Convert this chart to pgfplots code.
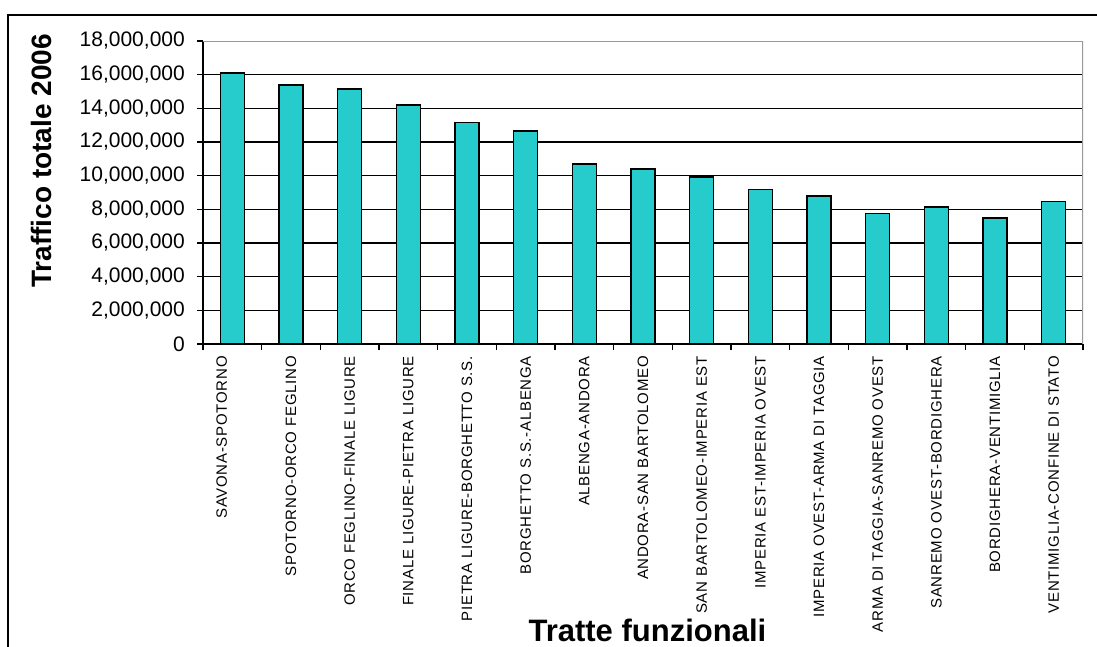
\documentclass[border=0pt]{standalone}
\usepackage{pgfplots}
\pgfplotsset{compat=1.18}
\usepackage{fontspec}
\setmainfont{Liberation Sans}
\definecolor{barteal}{HTML}{26CCCC}
\begin{document}
\begin{tikzpicture}[x=1pt,y=1pt]
\useasboundingbox (0,0) rectangle (1097,646);
\draw[line width=2pt] (8,-5) -- (8,631) -- (1102,631);
\begin{axis}[
  at={(203pt,302pt)}, anchor=south west,
  scale only axis, width=880pt, height=303pt,
  ybar, bar width=24pt,
  xmin=-0.5, xmax=14.5, ymin=0, ymax=18000000,
  axis x line*=bottom, axis y line*=left,
  axis line style={-, black, line width=1.5pt},
  xtick={-0.5,0.5,1.5,2.5,3.5,4.5,5.5,6.5,7.5,8.5,9.5,10.5,11.5,12.5,13.5,14.5},
  xticklabels={{\raisebox{5.5pt}[0pt][0pt]{SAVONA-SPOTORNO}},SPOTORNO-ORCO FEGLINO,ORCO FEGLINO-FINALE LIGURE,FINALE LIGURE-PIETRA LIGURE,PIETRA LIGURE-BORGHETTO S.S.,BORGHETTO S.S.-ALBENGA,ALBENGA-ANDORA,ANDORA-SAN BARTOLOMEO,SAN BARTOLOMEO-IMPERIA EST,IMPERIA EST-IMPERIA OVEST,IMPERIA OVEST-ARMA DI TAGGIA,ARMA DI TAGGIA-SANREMO OVEST,SANREMO OVEST-BORDIGHERA,BORDIGHERA-VENTIMIGLIA,VENTIMIGLIA-CONFINE DI STATO,{}},
  tick align=outside,
  major tick length=6pt,
  tick style={black, line width=1.3pt},
  ytick={0,2000000,4000000,6000000,8000000,10000000,12000000,14000000,16000000},
  extra y ticks={18000000},
  extra y tick style={grid=none},
  ymajorgrids, grid style={black, line width=1.3pt},
  scaled y ticks=false,
  /pgf/number format/fixed, /pgf/number format/precision=0,
  /pgf/number format/1000 sep={,},
  /pgf/number format/assume math mode=true,
  yticklabel style={font=\fontsize{21}{25}\selectfont, inner sep=0pt, anchor=east},
  yticklabel shift=12pt,
  xticklabel style={font=\fontsize{15}{18}\selectfont\addfontfeature{LetterSpace=5}, xshift=29.33pt, rotate=90, anchor=east, inner sep=0pt},
  xticklabel shift=6pt,
  xlabel={Tratte funzionali},
  xlabel style={font=\bfseries\fontsize{31}{36}\selectfont, at={(axis description cs:0.505,-0.944)}, anchor=center},
  ylabel={Traffico totale 2006},
  ylabel style={font=\bfseries\fontsize{28}{32}\selectfont, at={(axis description cs:-0.184,0.604)}, anchor=center},
]
\addplot[fill=barteal, draw=black, line width=1.5pt] coordinates {
 (0,16100000) (1,15400000) (2,15150000) (3,14200000) (4,13150000)
 (5,12650000) (6,10700000) (7,10400000) (8,9920000) (9,9190000)
 (10,8790000) (11,7740000) (12,8140000) (13,7500000) (14,8480000)
};
\draw[gray!80, line width=1.5pt] (rel axis cs:0,1) -- (rel axis cs:1,1) -- (rel axis cs:1,0);
\end{axis}
\end{tikzpicture}
\end{document}
